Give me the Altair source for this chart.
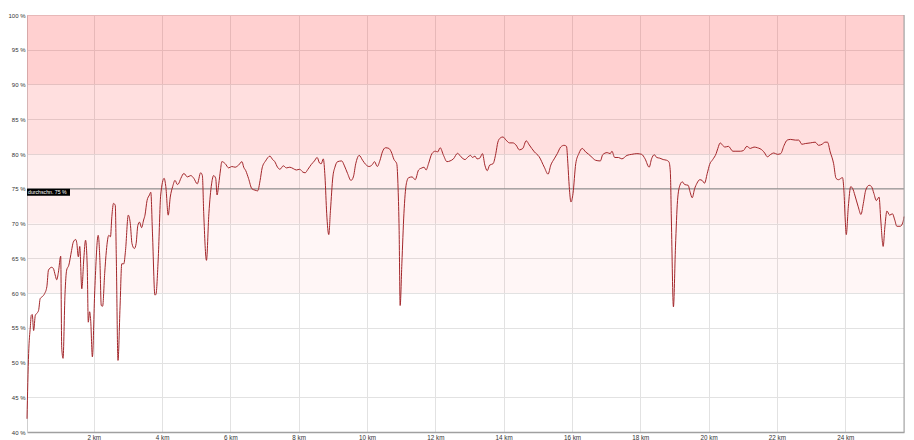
import altair as alt
import pandas as pd

km = [0.046, 0.094, 0.143, 0.172, 0.20, 0.24, 0.29, 0.34, 0.385, 0.433, 0.50, 0.56, 0.627, 0.675,
      0.77, 0.82, 0.87, 0.917, 0.966, 1.033, 1.062, 1.101, 1.159, 1.207, 1.27, 1.35, 1.40, 1.47,
      1.50, 1.55, 1.59, 1.65, 1.71, 1.76, 1.81, 1.84, 1.88, 1.91, 1.96, 2.03, 2.13, 2.18, 2.22,
      2.26, 2.32, 2.37, 2.44, 2.49, 2.53, 2.58, 2.63, 2.66, 2.71, 2.77, 2.82, 2.88, 2.93, 3.01,
      3.07, 3.12, 3.19, 3.24, 3.29, 3.34, 3.40, 3.46, 3.50, 3.56, 3.63, 3.67, 3.72, 3.79, 3.82,
      3.89, 3.96, 4.06, 4.11, 4.18, 4.24, 4.31, 4.38, 4.45,
      4.48, 4.55, 4.64, 4.74, 4.84, 4.93, 5.03, 5.13, 5.18, 5.22, 5.30, 5.37, 5.45, 5.51, 5.57,
      5.61, 5.66, 5.71, 5.75, 5.85, 5.95, 6.04, 6.14, 6.24, 6.34, 6.39, 6.45, 6.53, 6.63, 6.72,
      6.80, 6.87, 6.93, 7.03, 7.16, 7.22, 7.30, 7.38, 7.45, 7.55, 7.64, 7.74, 7.84, 7.93, 8.03,
      8.12, 8.19, 8.27, 8.37, 8.46, 8.54, 8.61, 8.66, 8.72, 8.77, 8.82, 8.88, 8.93, 9.00, 9.06,
      9.14, 9.26, 9.33, 9.43, 9.53, 9.60, 9.67, 9.77, 9.87, 9.96, 10.06, 10.16, 10.22, 10.30,
      10.38, 10.45, 10.54, 10.64, 10.71, 10.79, 10.87, 10.91, 10.94, 10.97, 11.02, 11.08, 11.15,
      11.22, 11.32, 11.41,
      11.51, 11.61, 11.67, 11.73, 11.80, 11.90, 12.00, 12.07, 12.14, 12.24, 12.34, 12.43, 12.53,
      12.65, 12.75, 12.87, 12.96, 13.03, 13.09, 13.16, 13.22, 13.30, 13.38, 13.45, 13.52, 13.59,
      13.69, 13.77, 13.83, 13.90, 13.98, 14.07, 14.17, 14.27, 14.36, 14.46, 14.56, 14.66, 14.75,
      14.90, 15.04, 15.19, 15.30, 15.38, 15.48, 15.57, 15.67, 15.77, 15.84, 15.88, 15.92, 15.97,
      16.03, 16.11, 16.20, 16.30, 16.40, 16.49, 16.59, 16.69, 16.83, 16.90, 17.03, 17.12, 17.17,
      17.25, 17.36, 17.46, 17.61, 17.75, 17.90, 18.04, 18.14, 18.26, 18.33, 18.41,
      18.48, 18.57, 18.67, 18.77, 18.84, 18.88, 18.91, 18.97, 19.03, 19.09, 19.16, 19.23, 19.30,
      19.40, 19.46, 19.52, 19.59, 19.66, 19.74, 19.81, 19.88, 19.96, 20.03, 20.12, 20.22, 20.27,
      20.34, 20.41, 20.48, 20.58, 20.71, 20.80, 20.93, 21.02, 21.12, 21.22, 21.33, 21.43, 21.58,
      21.64, 21.72, 21.82, 21.91, 22.01, 22.11, 22.21, 22.30, 22.40, 22.54, 22.64, 22.73, 22.83,
      22.98, 23.12, 23.22, 23.32, 23.41, 23.48, 23.56, 23.66, 23.73, 23.80, 23.92, 23.96, 24.00,
      24.03, 24.09, 24.16, 24.22, 24.28, 24.38, 24.46, 24.53, 24.60, 24.70, 24.77, 24.84, 24.91,
      24.99, 25.04, 25.11, 25.16, 25.22, 25.30, 25.38, 25.45, 25.51, 25.61, 25.69, 25.72]

pct = [41.9, 51.3, 55.1, 56.8, 56.9, 54.6, 56.8, 57.1, 57.5, 59.2, 59.5, 59.9, 60.9, 63.3,
       63.7, 63.5, 62.6, 61.9, 63.0, 65.3, 52.2, 50.6, 59.9, 63.3, 64.0, 66.1, 67.3, 67.7,
       67.3, 65.2, 66.7, 60.6, 65.0, 67.6, 63.7, 55.8, 57.3, 56.1, 50.8, 60.4, 68.3, 64.7, 58.2,
       58.1, 62.8, 66.1, 68.3, 68.1, 71.0, 72.9, 72.6, 65.2, 50.3, 58.0, 64.2, 64.2, 66.1, 71.2,
       70.0, 67.1, 66.4, 67.1, 69.7, 70.2, 69.4, 70.5, 71.2, 73.3, 74.1, 74.5, 68.5, 59.7, 59.8,
       65.2, 74.1, 76.5, 75.3, 71.2, 73.8, 75.3, 76.2, 75.6,
       75.7, 76.5, 77.2, 76.7, 76.9, 76.5, 75.7, 77.3, 76.9, 71.4, 64.7, 71.4, 75.7, 76.9, 76.5,
       74.1, 75.7, 77.7, 78.9, 78.6, 78.0, 78.2, 78.1, 78.4, 78.9, 78.1, 77.6, 76.5, 75.0, 74.8,
       74.7, 76.2, 78.0, 79.0, 79.7, 79.3, 78.9, 78.1, 77.8, 78.3, 78.0, 78.1, 77.9, 77.7, 77.8,
       77.4, 77.3, 77.8, 78.5, 79.0, 79.5, 78.7, 78.6, 79.3, 76.7, 71.4, 68.4, 71.9, 76.7, 78.1,
       78.9, 79.0, 78.4, 77.2, 76.2, 76.7, 78.6, 79.8, 79.1, 78.5, 78.2, 78.5, 78.9, 78.2,
       79.1, 80.3, 80.9, 80.8, 80.3, 79.2, 78.6, 75.0, 69.0, 58.2, 64.2, 71.4, 75.7,
       76.6, 76.7, 76.3,
       77.7, 78.0, 78.1, 77.7, 78.6, 80.05, 80.4, 80.3, 80.9, 79.8, 78.9, 79.0, 79.3,
       80.1, 79.6, 79.2, 79.6, 79.8, 79.5, 79.7, 79.3, 79.4, 80.05, 78.4, 77.6, 78.4,
       78.6, 80.05, 81.7, 82.3, 82.45, 82.0, 81.6, 81.6, 81.3, 80.6, 80.8, 81.9, 81.3,
       80.3, 79.6, 78.1, 77.1, 78.4, 79.3, 80.05, 81.0, 81.25, 81.1, 78.6, 75.3, 73.1,
       74.3, 78.6, 80.05, 80.8, 80.3, 79.95, 79.5, 79.1, 79.0, 79.9, 80.2, 80.05, 80.4,
       79.5, 79.5, 79.3, 79.8, 79.95, 80.05, 79.95, 79.3, 78.1, 79.3, 79.9,
       79.5, 79.4, 79.2, 79.1, 78.85, 77.4, 70.5, 58.0, 66.6, 73.3, 75.5, 76.0, 75.6,
       75.5, 74.5, 73.7, 75.0, 75.8, 76.3, 76.2, 75.8, 77.2, 78.5, 79.2, 80.05, 80.8,
       81.6, 81.25, 81.0, 81.1, 80.4, 80.4, 80.4, 80.5, 81.1, 80.8, 81.0, 80.9, 80.5,
       80.15, 79.6, 79.95, 80.15, 79.95, 80.05, 81.25, 82.0, 82.1, 82.0, 82.0, 81.4, 81.5,
       81.6, 81.7, 81.25, 81.4, 81.7, 81.7, 80.3, 78.6, 76.5, 76.3, 76.6, 74.8, 70.5,
       68.4, 72.4, 75.3, 75.0, 74.1, 72.4, 71.3, 72.9, 74.8, 75.5, 75.3, 74.3, 73.3,
       73.8, 70.5, 66.7, 69.5, 71.8, 71.2, 71.4, 70.5, 69.6, 69.6, 70.2, 71.0]

band_lo = [60, 70, 80, 90]
band_hi = [70, 80, 90, 100]
band_opacity = [0.035, 0.067, 0.125, 0.185]

avg_value = 75
avg_label = "durchschn. 75 %"

x_ticks = [2, 4, 6, 8, 10, 12, 14, 16, 18, 20, 22, 24]
y_ticks = [40, 45, 50, 55, 60, 65, 70, 75, 80, 85, 90, 95, 100]

W, H = 877, 417

df = pd.DataFrame({"km": km, "pct": pct})
bands = pd.DataFrame({"lo": band_lo, "hi": band_hi, "op": band_opacity})

xs = alt.Scale(domain=[km[0], km[-1]], nice=False, zero=False)
ys = alt.Scale(domain=[40, 100], nice=False, zero=False)

FONT = "Liberation Sans"

xaxis = alt.Axis(values=x_ticks, labelExpr="datum.value + ' km'", ticks=False, title=None,
                 grid=True, gridColor="#e2e2e2", domainColor="#a0a0a0", domainWidth=1.5,
                 labelFontSize=6.3, labelColor="#333333", labelFont=FONT, labelPadding=2)
yaxis = alt.Axis(values=y_ticks, labelExpr="datum.value + ' %'", ticks=False, title=None,
                 grid=True, gridColor="#e2e2e2", domainColor="#cfcfcf", domainWidth=1,
                 labelFontSize=6, labelColor="#333333", labelFont=FONT, labelPadding=2)

band_layer = alt.Chart(bands).mark_rect(color="#ff0000").encode(
    x=alt.value(0), x2=alt.value(W),
    y=alt.Y("hi:Q", scale=ys, axis=yaxis),
    y2="lo:Q",
    opacity=alt.Opacity("op:Q", scale=None, legend=None),
)

avg_rule = alt.Chart(pd.DataFrame({"v": [avg_value]})).mark_rule(
    color="#8c8c8c", strokeWidth=1).encode(
    y=alt.Y("v:Q", scale=ys, axis=yaxis), x=alt.value(0), x2=alt.value(W))

line = alt.Chart(df).mark_line(color="#a3262a", strokeWidth=1.0, interpolate="monotone").encode(
    x=alt.X("km:Q", scale=xs, axis=xaxis),
    y=alt.Y("pct:Q", scale=ys, axis=yaxis),
)

lab = pd.DataFrame({"v": [avg_value], "v2": [avg_value - 1.0], "vm": [avg_value - 0.5], "t": [avg_label]})
lab_box = alt.Chart(lab).mark_rect(color="#000000").encode(
    x=alt.value(0), x2=alt.value(43),
    y=alt.Y("v:Q", scale=ys, axis=yaxis), y2="v2:Q")
lab_text = alt.Chart(lab).mark_text(color="#ffffff", fontSize=5.2, font=FONT, align="left",
                                     baseline="middle").encode(
    x=alt.value(1), y=alt.Y("vm:Q", scale=ys, axis=yaxis), text="t:N")

right_border = alt.Chart(pd.DataFrame({"k": [km[-1]]})).mark_rule(color="#a0a0a0", strokeWidth=1).encode(
    x=alt.X("k:Q", scale=xs, axis=xaxis), y=alt.value(0), y2=alt.value(H))

chart = alt.layer(band_layer, avg_rule, line, lab_box, lab_text, right_border).properties(
    width=W, height=H,
    padding={"left": 19, "top": 7, "right": 2, "bottom": 10},
    autosize=alt.AutoSizeParams(type="none"),
).configure_view(stroke=None).configure(background="#ffffff")

chart.save("out.html", embed_options={"renderer": "svg", "actions": False})
